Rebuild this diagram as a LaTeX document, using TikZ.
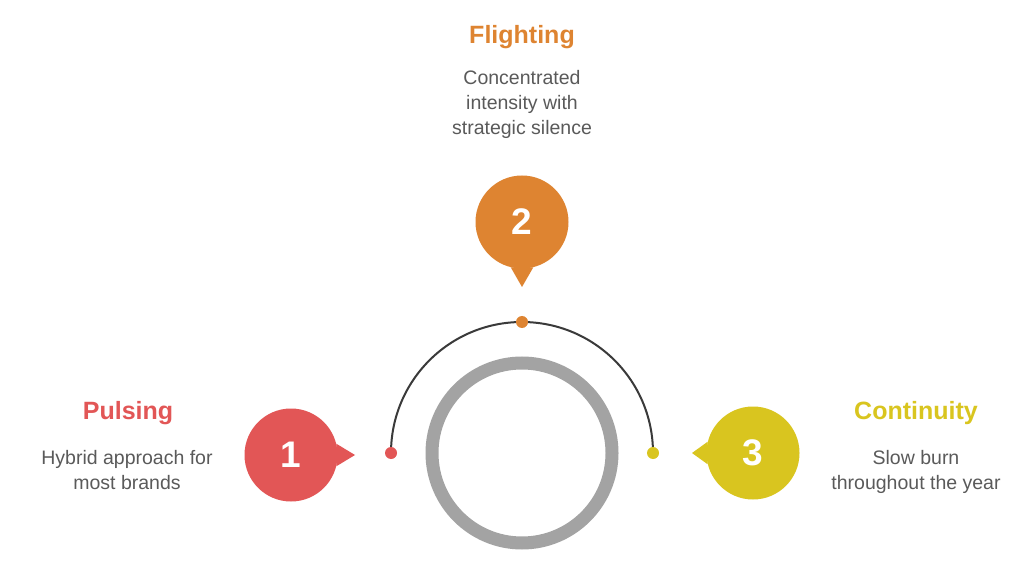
\documentclass[tikz,border=0pt]{standalone}
\usepackage{fontspec}
\setmainfont{Liberation Sans}
\definecolor{pulsered}{HTML}{E25656}
\definecolor{flightorange}{HTML}{DE8431}
\definecolor{contyellow}{HTML}{D9C51F}
\definecolor{desctext}{HTML}{5A5A5A}
\definecolor{ringgray}{HTML}{A3A3A3}
\definecolor{arcgray}{HTML}{3A3A3A}
\tikzset{
  numcircle/.style={circle, minimum size=93pt, inner sep=0pt, text=white,
    font=\bfseries\fontsize{37}{37}\selectfont},
  title/.style={font=\bfseries\fontsize{25}{28}\selectfont},
  desc/.style={align=center, text=desctext, font=\fontsize{19.5}{25}\selectfont},
  enddot/.style={circle, minimum size=12pt, inner sep=0pt},
}
\begin{document}
\begin{tikzpicture}[x=1pt,y=1pt]
\useasboundingbox (0,0) rectangle (1024,576);
\fill[white] (0,0) rectangle (1024,576);
% ring in the middle
\coordinate (mid) at (522,123);
\draw[ringgray, line width=13pt] (mid) circle[radius=90pt];
% arc and its dots
\coordinate (a1) at (391,123);
\draw[arcgray, line width=2pt] (a1) arc[start angle=180, end angle=0, radius=131pt];
\node[enddot, fill=pulsered] (d1) at (391,123) {};
\node[enddot, fill=flightorange] (d2) at (522,254) {};
\node[enddot, fill=contyellow] (d3) at (653,123) {};
% numbered pins
\node[numcircle, fill=pulsered] (n1) at (291,121) {1};
\coordinate (t1) at (355,121);
\fill[pulsered] (n1.14) -- (t1) -- (n1.-14) -- cycle;
\node[numcircle, fill=flightorange] (n2) at (522,354) {2};
\coordinate (t2) at (522,289);
\fill[flightorange] (n2.-76) -- (t2) -- (n2.-104) -- cycle;
\node[numcircle, fill=contyellow] (n3) at (753,123) {3};
\coordinate (t3) at (692,123);
\fill[contyellow] (n3.166) -- (t3) -- (n3.194) -- cycle;
% titles and texts
\node[title, text=pulsered] (puls) at (128,163) {Pulsing};
\node[desc] (pulsdesc) at (127,106) {Hybrid approach for\\most brands};
\node[title, text=flightorange] (flight) at (522,539) {Flighting};
\node[desc] (flightdesc) at (522,472) {Concentrated\\intensity with\\strategic silence};
\node[title, text=contyellow] (cont) at (916,163) {Continuity};
\node[desc] (contdesc) at (916,104) {Slow burn\\throughout the year};
\end{tikzpicture}
\end{document}
